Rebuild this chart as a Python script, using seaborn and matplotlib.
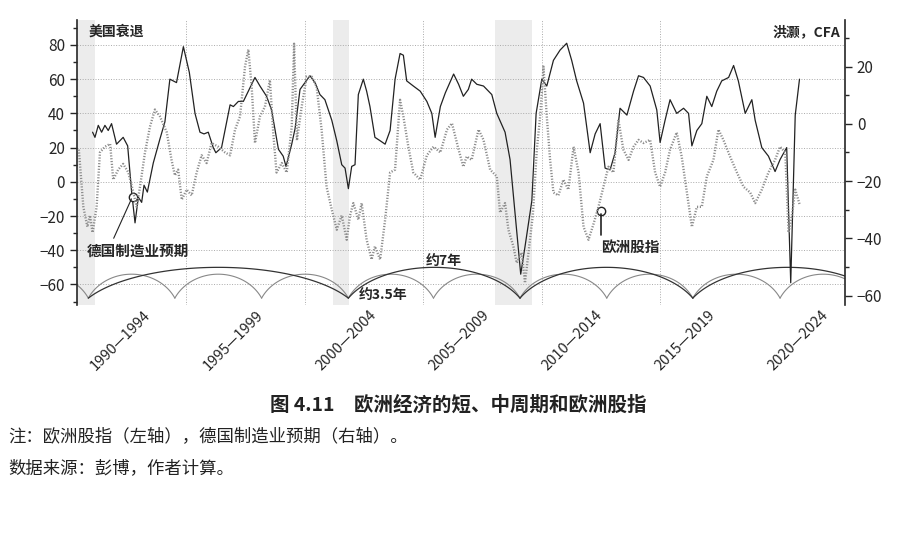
import numpy as np
import pandas as pd
import seaborn as sns
import matplotlib.pyplot as plt
from matplotlib.ticker import MultipleLocator

sns.set_theme(style="ticks")
plt.rcParams['font.family'] = ['Noto Sans CJK SC', 'DejaVu Sans']
plt.rcParams['axes.unicode_minus'] = True

# 欧洲股指 (left axis)
stock_year = [1991.06, 1991.16, 1991.3, 1991.44, 1991.58, 1991.72, 1991.86, 1992.07, 1992.35, 1992.54,
              1992.7, 1992.85, 1992.99, 1993.13, 1993.23, 1993.37, 1993.62, 1993.9, 1994.11, 1994.32,
              1994.46, 1994.6, 1994.89, 1995.14, 1995.38, 1995.59, 1995.76, 1995.94, 1996.15, 1996.26,
              1996.5, 1996.86, 1997.0, 1997.21, 1997.42, 1997.63, 1997.91, 1998.12, 1998.4, 1998.61,
              1998.9, 1999.1, 1999.22, 1999.46, 1999.6, 1999.81, 2000.23, 2000.44, 2000.65, 2000.86,
              2001.15, 2001.36, 2001.57, 2001.71, 2001.85, 2001.99, 2002.13, 2002.27, 2002.48, 2002.62,
              2002.76, 2002.97, 2003.19, 2003.4, 2003.61, 2003.82, 2004.03, 2004.17, 2004.31, 2004.59,
              2004.88, 2005.16, 2005.37, 2005.51, 2005.73, 2005.94, 2006.29, 2006.5, 2006.7, 2006.91,
              2007.05, 2007.27, 2007.55, 2007.9, 2008.11, 2008.46, 2008.67, 2008.88, 2009.12, 2009.3,
              2009.59, 2009.77, 2010.01, 2010.22, 2010.5, 2010.78, 2011.06, 2011.27, 2011.48, 2011.77,
              2012.05, 2012.26, 2012.47, 2012.68, 2012.89, 2013.1, 2013.31, 2013.6, 2013.88, 2014.09,
              2014.3, 2014.58, 2014.86, 2015.0, 2015.21, 2015.42, 2015.7, 2015.99, 2016.2, 2016.34,
              2016.55, 2016.76, 2016.97, 2017.18, 2017.39, 2017.6, 2017.89, 2018.1, 2018.3, 2018.59,
              2018.87, 2019.01, 2019.29, 2019.57, 2019.85, 2020.06, 2020.34, 2020.51, 2020.7, 2020.88]
stock_val = [29, 26, 33, 29, 33, 30, 34, 22, 26, 21,
             -5, -24, -9, -12, -2, -6, 11, 25, 35, 60,
             59, 58, 79, 64, 40, 29, 28, 29, 20, 17,
             20, 45, 44, 47, 47, 53, 61, 56, 50, 42,
             19, 15, 9, 22, 31, 54, 62, 58, 51, 48,
             36, 24, 10, 8, -4, 9, 10, 51, 60, 53,
             44, 26, 24, 22, 30, 60, 75, 74, 59, 56,
             53, 47, 40, 26, 44, 52, 63, 57, 50, 54,
             60, 57, 56, 51, 40, 29, 13, -18, -54, -38,
             -11, 40, 60, 56, 71, 77, 81, 71, 59, 46,
             17, 28, 34, 8, 7, 17, 43, 39, 53, 62,
             61, 56, 42, 23, 36, 48, 40, 43, 40, 21,
             30, 34, 50, 44, 53, 59, 61, 68, 59, 40,
             48, 36, 20, 15, 6, 13, 20, -59, 39, 60]

# 德国制造业预期 (right axis)
ifo_year = [1990.48, 1990.67, 1990.84, 1990.95, 1991.06, 1991.23, 1991.37, 1991.58, 1991.8, 1991.93,
            1992.14, 1992.35, 1992.57, 1992.78, 1992.92, 1993.06, 1993.27, 1993.48, 1993.69, 1993.9,
            1994.19, 1994.39, 1994.53, 1994.67, 1994.82, 1995.03, 1995.24, 1995.45, 1995.66, 1995.87,
            1996.08, 1996.36, 1996.65, 1996.86, 1997.07, 1997.28, 1997.49, 1997.63, 1997.77, 1997.91,
            1998.12, 1998.33, 1998.54, 1998.68, 1998.82, 1999.04, 1999.25, 1999.46, 1999.56, 1999.68,
            1999.88, 2000.09, 2000.3, 2000.51, 2000.72, 2000.93, 2001.15, 2001.36, 2001.57, 2001.78,
            2001.92, 2002.06, 2002.27, 2002.41, 2002.62, 2002.83, 2002.97, 2003.19, 2003.4, 2003.61,
            2003.82, 2004.03, 2004.17, 2004.38, 2004.59, 2004.88, 2005.16, 2005.44, 2005.73, 2006.01,
            2006.22, 2006.5, 2006.7, 2006.84, 2007.05, 2007.34, 2007.55, 2007.83, 2008.11, 2008.25,
            2008.46, 2008.6, 2008.81, 2008.95, 2009.16, 2009.3, 2009.45, 2009.63, 2009.8, 2009.94,
            2010.08, 2010.22, 2010.36, 2010.5, 2010.71, 2010.92, 2011.13, 2011.35, 2011.56, 2011.77,
            2011.98, 2012.19, 2012.4, 2012.61, 2012.82, 2013.03, 2013.24, 2013.45, 2013.67, 2013.88,
            2014.09, 2014.3, 2014.58, 2014.79, 2015.0, 2015.21, 2015.42, 2015.7, 2015.91, 2016.13,
            2016.34, 2016.55, 2016.76, 2016.97, 2017.25, 2017.46, 2017.67, 2017.95, 2018.24, 2018.52,
            2018.8, 2019.01, 2019.29, 2019.57, 2019.85, 2020.06, 2020.28, 2020.42, 2020.56, 2020.7, 2020.88]
ifo_val = [-9, -29, -36, -32, -38, -29, -10, -8, -7, -19.5,
           -16, -14, -17, -24, -29, -22, -10, -1, 5, 2.6,
           -3, -12.6, -18, -16, -26.5, -23, -25, -17, -11, -13.7,
           -6.7, -8, -10, -11, -2, 2.6, 20, 26, 13, -6.7,
           2.6, 6, 15.3, -3, -17, -13.7, -17, -1, 28, -5.8,
           6, 16.5, 16.5, 13, -2, -22, -30, -37, -32, -40.5,
           -32, -27.7, -33.5, -27.7, -40.5, -47.4, -42.8, -47.4, -33.5, -17,
           -16, 8.4, 2.6, -8, -17, -19.5, -11, -8, -10, -2,
           0.2, -9, -15, -11.4, -12.6, -2, -5.6, -16, -18.4, -31,
           -27.7, -37, -42.8, -48.6, -45, -55.6, -45, -32, -9, 2.6,
           20, 2.6, -12.6, -24, -25, -19.5, -23, -8, -17, -36,
           -40.5, -35, -29, -22, -15, -17, 1.4, -9, -12.6, -8,
           -5.6, -6.7, -5.6, -17, -22, -17, -9, -3, -11.4, -24,
           -36, -29, -29, -18.4, -12.6, -2, -5.6, -11.4, -17, -22,
           -24, -27.7, -23, -17, -12.6, -8, -10, -38, -32, -23, -28]

recessions = [(1990.3, 1991.17), (2001.2, 2001.87), (2008.04, 2009.59)]
short_cusps = [1987.23, 1990.88, 1994.53, 1998.19, 2001.85, 2005.44, 2009.09, 2012.75, 2016.38, 2020.06, 2023.7]
long_cusps = [1990.88, 2001.85, 2009.09, 2016.38, 2024.4]
period_pos = [1993.6, 1998.37, 2003.14, 2007.91, 2012.68, 2017.45, 2022.22]
period_labels = ["1990—1994", "1995—1999", "2000—2004", "2005—2009", "2010—2014", "2015—2019", "2020—2024"]


def arc(x0, x1, base, top, n=80):
    # segment of an ellipse between two cusps
    k = 0.9
    t = np.linspace(-1, 1, n)
    s = np.sqrt(1 - (k * t) ** 2)
    s0 = np.sqrt(1 - k ** 2)
    return (x0 + x1) / 2 + t * (x1 - x0) / 2, base + (top - base) * (s - s0) / (1 - s0)


fig = plt.figure(figsize=(9.16, 5.52), dpi=100)
ax = fig.add_axes([0.084, 0.4475, 0.8385, 0.5163])
ax2 = ax.twinx()

for a, b in recessions:
    ax.axvspan(a, b, color="#ececec", zorder=0, lw=0)

stock = pd.DataFrame({"year": stock_year, "val": stock_val})
ifo = pd.DataFrame({"year": ifo_year, "val": ifo_val})
sns.lineplot(data=stock, x="year", y="val", ax=ax, color="#222222", lw=0.9, zorder=3)
sns.lineplot(data=ifo, x="year", y="val", ax=ax2, color="#8c8c8c", lw=1.7, ls=(0, (0.5, 0.7)), zorder=2)

for x0, x1 in zip(short_cusps[:-1], short_cusps[1:]):
    xs, ys = arc(x0, x1, -68, -54)
    ax.plot(xs, ys, color="#888888", lw=0.8, zorder=2)
for x0, x1 in zip(long_cusps[:-1], long_cusps[1:]):
    xs, ys = arc(x0, x1, -68, -50)
    ax.plot(xs, ys, color="#333333", lw=0.9, zorder=2)

ax.set_xlim(1990.4, 2022.8)
ax.set_ylim(-72, 94.6)
ax2.set_ylim(-63.3, 36.3)
ax.set_yticks(range(-60, 81, 20))
ax.yaxis.set_minor_locator(MultipleLocator(10))
ax2.set_yticks(range(-60, 21, 20))
ax2.yaxis.set_minor_locator(MultipleLocator(10))

for v in range(-60, 81, 20):
    ax.axhline(v, color="#aaaaaa", lw=0.7, ls=":", zorder=1)
for yr in [1995, 2000, 2005, 2010, 2015]:
    ax.axvline(yr, color="#aaaaaa", lw=0.7, ls=":", zorder=1)

ax.set_xticks(period_pos)
ax.set_xticklabels(period_labels, rotation=45, ha="right", fontsize=10.5)
ax.tick_params(axis="x", length=0, pad=2)
ax.tick_params(axis="y", labelsize=11, direction="out", length=5, width=1)
ax.tick_params(axis="y", which="minor", length=3)
ax2.tick_params(axis="y", labelsize=11, direction="out", length=5, width=1)
ax2.tick_params(axis="y", which="minor", length=3)
for a in (ax, ax2):
    a.set_xlabel("")
    a.set_ylabel("")
    for s in ("top", "bottom"):
        a.spines[s].set_visible(False)
    a.spines["left"].set_linewidth(1.2)
    a.spines["right"].set_linewidth(1.2)
ax2.spines["left"].set_visible(False)
ax.spines["right"].set_visible(False)

ax.text(1990.9, 88, "美国衰退", fontsize=10, fontweight="bold", va="center")
ax2.text(2022.6, 32, "洪灏，CFA", fontsize=10, fontweight="bold", va="center", ha="right")
ax.text(1990.8, -40, "德国制造业预期", fontsize=10.5, fontweight="bold", va="center")
ax.plot([1992.76], [-8.6], marker="o", ms=6, mfc="white", mec="#222222", zorder=5)
ax.plot([1991.95, 1992.7], [-33, -10], color="#222222", lw=0.8, zorder=5)
ax.plot([2012.5], [-16.8], marker="o", ms=6, mfc="white", mec="#222222", zorder=5)
ax.plot([2012.5, 2012.5], [-19, -31], color="#222222", lw=1.2, zorder=5)
ax.text(2012.5, -38, "欧洲股指", fontsize=10.5, fontweight="bold", va="center")
ax.text(2005.1, -46, "约7年", fontsize=10, fontweight="bold", va="center")
ax.text(2002.3, -66, "约3.5年", fontsize=10, fontweight="bold", va="center")

fig.text(0.5, 0.266, "图 4.11　欧洲经济的短、中周期和欧洲股指", ha="center", va="center",
         fontsize=14, fontweight="bold", color="#222222")
fig.text(0.009, 0.209, "注：欧洲股指（左轴），德国制造业预期（右轴）。", va="center", fontsize=12.5, color="#222222")
fig.text(0.009, 0.152, "数据来源：彭博，作者计算。", va="center", fontsize=12.5, color="#222222")

fig.savefig("out.png", dpi=100)
